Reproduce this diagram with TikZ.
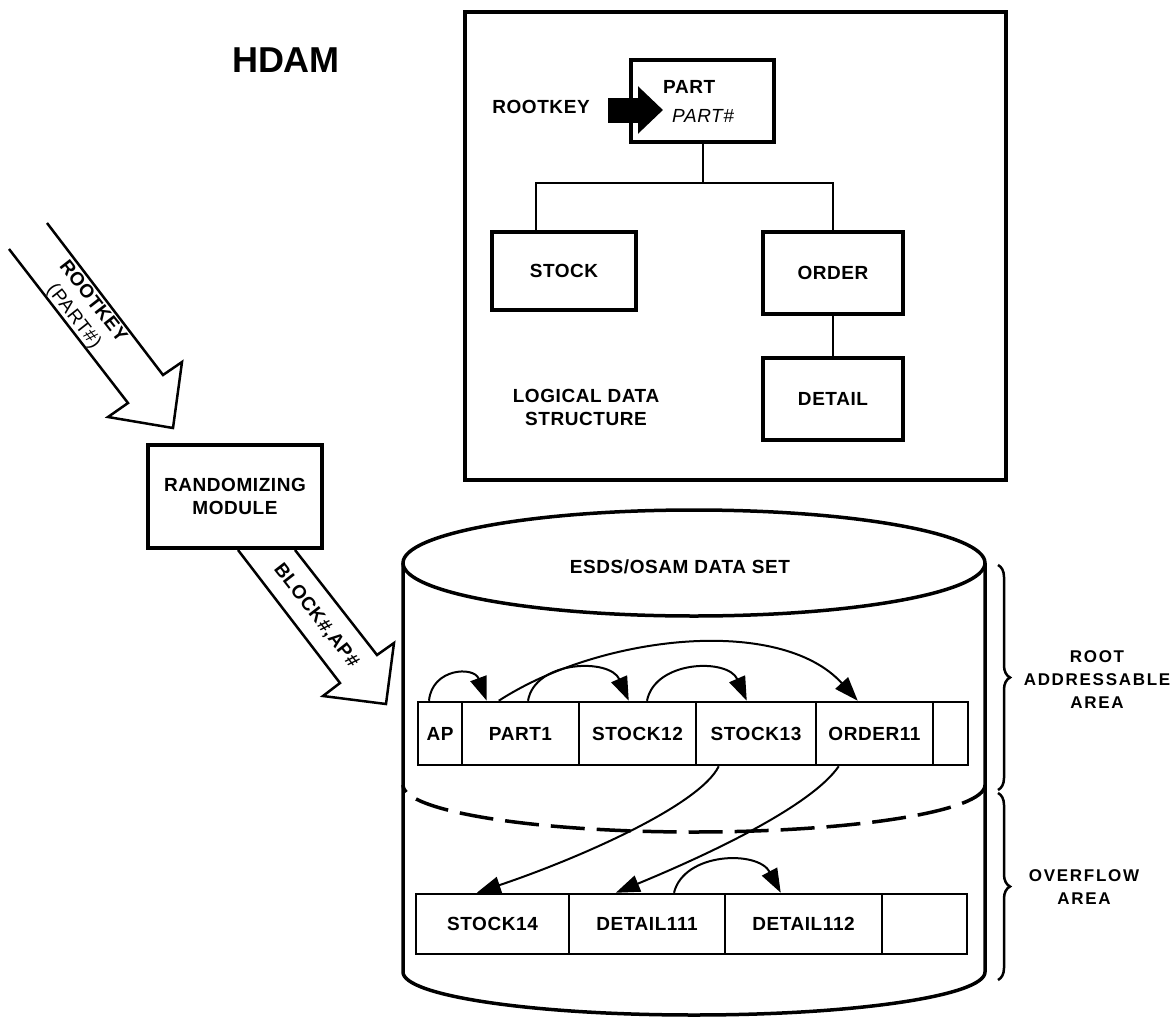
\documentclass[tikz,border=0pt]{standalone}
\usepackage{fontspec}
\setmainfont{Liberation Sans}
\newfontfamily\labf[LetterSpace=3]{Liberation Sans}
\newfontfamily\widef[LetterSpace=10]{Liberation Sans}
\usetikzlibrary{arrows.meta,decorations.pathreplacing,calc}
\begin{document}
\begin{tikzpicture}[x=1pt,y=-1pt,
  lbl/.style={font=\fontsize{19}{23}\selectfont\labf\bfseries, inner sep=0pt, align=center},
  blbl/.style={font=\fontsize{17}{23}\selectfont\widef\bfseries, inner sep=0pt, align=center},
  boxn/.style={draw, line width=3.5pt, inner sep=0pt},
  cell/.style={draw, line width=2.5pt, inner sep=0pt, font=\fontsize{19}{22}\selectfont\labf\bfseries},
  conn/.style={line width=2pt},
  cyl/.style={line width=3.5pt},
  ptr/.style={line width=2pt, -{Triangle[length=24pt,width=17pt]}},
  hollow/.style={line width=2.5pt, line join=miter},
  brc/.style={line width=2.5pt, decorate, decoration={brace, amplitude=12pt}}
]
\useasboundingbox (0,0) rectangle (1176,1017);

% title
\node[font=\fontsize{36}{40}\selectfont\bfseries, inner sep=0pt] (title) at (286,60) {HDAM};

% logical data structure frame
\node[draw, line width=4.5pt, minimum width=541pt, minimum height=468pt, inner sep=0pt] (lds) at (735.5,246) {};
\node[boxn, minimum width=143pt, minimum height=82pt] (part) at (702.5,101) {};
\node[lbl, anchor=west] (partname) at (663,87) {PART};
\node[font=\fontsize{19}{22}\selectfont\labf\itshape, inner sep=0pt, anchor=west] (partkey) at (672,116) {PART\#};
\node[lbl] (rootkey) at (541,107) {ROOTKEY};
\coordinate (rkA) at (608,110);
\coordinate (rkB) at (663,110);
\draw[line width=25pt, -{Triangle[length=25pt,width=46pt]}] (rkA) -- (rkB);

\node[boxn, minimum width=144pt, minimum height=78pt] (stock) at (564,271) {};
\node[lbl] (stocklbl) at (stock.center) {STOCK};
\node[boxn, minimum width=140pt, minimum height=82pt] (order) at (833,273) {};
\node[lbl] (orderlbl) at (order.center) {ORDER};
\node[boxn, minimum width=140pt, minimum height=82pt] (detail) at (833,399) {};
\node[lbl] (detaillbl) at (detail.center) {DETAIL};
\node[lbl] (ldslbl) at (586,407) {LOGICAL DATA\\STRUCTURE};

\coordinate (tl) at (536,183);
\coordinate (tm) at (part.south |- tl);
\coordinate (tr) at (order.north |- tl);
\draw[conn] (part.south) -- (tm);
\draw[conn] (tl |- stock.north) -- (tl) -- (tr) -- (order.north);
\draw[conn] (order.south) -- (detail.north);

% randomizing module
\node[boxn, line width=4pt, minimum width=174pt, minimum height=103pt] (rand) at (235,496.5) {};
\node[lbl] (randlbl) at (rand.center) {RANDOMIZING\\MODULE};

% hollow arrow ROOTKEY
\draw[hollow] (47,223) -- (163,375) -- (182,362) -- (173,428) -- (108,417) -- (128,403) -- (9,249);
\node[font=\fontsize{19}{24}\selectfont\labf, inner sep=0pt, align=center, rotate=-52] (rklbl) at (83,309.5) {\bfseries ROOTKEY\\(PART\#)};

% hollow arrow BLOCK#,AP#
\draw[hollow] ($(rand.south)+(3,0)$) -- (340,683) -- (323,696) -- (386,704) -- (394,643) -- (377,655) -- ($(rand.south)+(60,0)$);
\node[lbl, rotate=-52] (blklbl) at (316,616) {BLOCK\#,AP\#};

% cylinder
\draw[cyl] (403,563) -- (403,972) arc[start angle=180, end angle=360, x radius=291pt, y radius=43pt] -- (985,563);
\draw[cyl] (694,563) ellipse [x radius=291pt, y radius=53pt];
\node[lbl] (dslbl) at (680,567) {ESDS/OSAM DATA SET};
\draw[line width=3.5pt, dash pattern=on 34pt off 12pt, dash phase=-20pt] (403,785) arc[start angle=180, end angle=360, x radius=291pt, y radius=47pt];

% top row
\node[cell, minimum width=44pt, minimum height=63pt] (ap) at (440,733.5) {AP};
\node[cell, minimum width=117pt, minimum height=63pt] (part1) at (520.5,733.5) {PART1};
\node[cell, minimum width=117pt, minimum height=63pt] (st12) at (637.5,733.5) {STOCK12};
\node[cell, minimum width=120pt, minimum height=63pt] (st13) at (756,733.5) {STOCK13};
\node[cell, minimum width=117pt, minimum height=63pt] (or11) at (874.5,733.5) {ORDER11};
\node[cell, minimum width=35pt, minimum height=63pt] (e1) at (950.5,733.5) {};

% bottom row
\node[cell, minimum width=153pt, minimum height=60pt] (st14) at (492.5,924) {STOCK14};
\node[cell, minimum width=156pt, minimum height=60pt] (d111) at (647,924) {DETAIL111};
\node[cell, minimum width=157pt, minimum height=60pt] (d112) at (803.5,924) {DETAIL112};
\node[cell, minimum width=85pt, minimum height=60pt] (e2) at (924.5,924) {};

% pointers
\draw[ptr] ($(ap.north)+(-11,0)$) .. controls (432,668) and (474,666) .. ($(part1.north west)+(26,0)$);
\draw[ptr] ($(part1.north)+(7.5,0)$) .. controls (535,660) and (610,658) .. ($(st12.north west)+(51,0)$);
\draw[ptr] ($(st12.north)+(9.5,0)$) .. controls (655,660) and (728,658) .. ($(st13.north west)+(52,0)$);
\draw[ptr] ($(part1.north west)+(38,0)$) .. controls (600,635) and (780,615) .. ($(or11.north west)+(43,0)$);
\draw[ptr] ($(st13.south west)+(24,0)$) .. controls (700,805) and (580,858) .. ($(st14.north west)+(62,0)$);
\draw[ptr] ($(or11.south west)+(24,0)$) .. controls (810,808) and (700,858) .. ($(d111.north west)+(48,0)$);
\draw[ptr] ($(d111.north)+(27,0)$) .. controls (684,852) and (758,850) .. ($(d112.north west)+(57,0)$);

% braces
\draw[brc] (998,565) -- (998,790);
\draw[brc] (998,793) -- (998,980);
\node[blbl] (ralbl) at (1097,680) {ROOT\\ADDRESSABLE\\AREA};
\node[blbl] (oalbl) at (1084,887) {OVERFLOW\\AREA};
\end{tikzpicture}
\end{document}
